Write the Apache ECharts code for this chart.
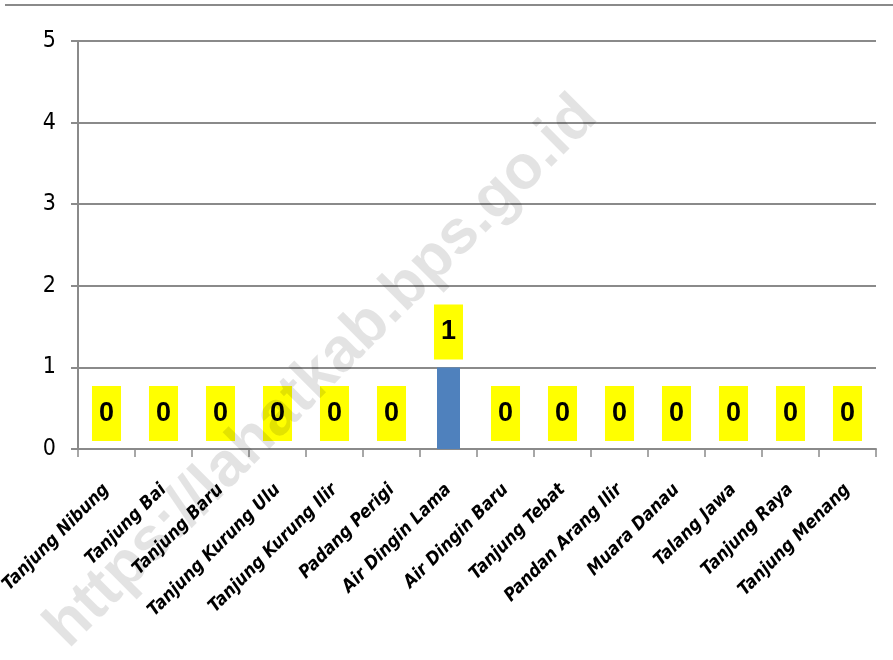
<!DOCTYPE html>
<html>
<head>
<meta charset="utf-8">
<script src="https://cdn.jsdelivr.net/npm/echarts@6/dist/echarts.min.js"></script>
<style>
  html, body { margin: 0; padding: 0; background: #fff; }
  #chart { width: 893px; height: 660px; }
</style>
</head>
<body>
<div id="chart"></div>
<script>
const villages = [
  "Tanjung Nibung", "Tanjung Bai", "Tanjung Baru", "Tanjung Kurung Ulu",
  "Tanjung Kurung Ilir", "Padang Perigi", "Air Dingin Lama", "Air Dingin Baru",
  "Tanjung Tebat", "Pandan Arang Ilir", "Muara Danau", "Talang Jawa",
  "Tanjung Raya", "Tanjung Menang"
];
const counts = [0, 0, 0, 0, 0, 0, 1, 0, 0, 0, 0, 0, 0, 0];
const yTicks = [0, 1, 2, 3, 4, 5];

const gridGray = "#8a8a8a";
const chart = echarts.init(document.getElementById("chart"));

const option = {
  animation: false,
  grid: { left: 78, right: 17, top: 41, bottom: 211, containLabel: false, outerBoundsMode: "none" },
  xAxis: {
    type: "category",
    data: villages,
    boundaryGap: true,
    axisLine: { lineStyle: { color: gridGray, width: 2 } },
    axisTick: { show: true, length: 8, lineStyle: { color: gridGray, width: 1.5 } },
    axisLabel: {
      interval: 0,
      rotate: 45,
      margin: 38,
      color: "#000",
      fontFamily: "'Liberation Sans Narrow', 'DejaVu Sans Condensed', sans-serif",
      fontWeight: "bold",
      fontStyle: "italic",
      fontSize: 18
    }
  },
  yAxis: {
    type: "value",
    min: yTicks[0],
    max: yTicks[yTicks.length - 1],
    interval: 1,
    axisLine: { show: true, lineStyle: { color: gridGray, width: 2 } },
    axisTick: { show: true, length: 7, lineStyle: { color: gridGray, width: 2 } },
    splitLine: { lineStyle: { color: gridGray, width: 2 } },
    axisLabel: {
      margin: 22,
      color: "#000",
      fontFamily: "'Liberation Sans Narrow', 'DejaVu Sans Condensed', sans-serif",
      fontSize: 23
    }
  },
  series: [
    {
      type: "bar",
      data: counts,
      barWidth: 23,
      itemStyle: { color: "#4f81bd" },
      label: {
        show: true,
        position: "top",
        distance: 8,
        backgroundColor: "#ffff00",
        padding: [13, 7, 13, 7],
        lineHeight: 29,
        color: "#000",
        fontFamily: "'Liberation Sans', Arial, sans-serif",
        fontWeight: "bold",
        fontSize: 27
      }
    }
  ],
  graphic: [
    {
      type: "line",
      shape: { x1: 5, y1: 5, x2: 893, y2: 5 },
      style: { stroke: gridGray, lineWidth: 2 }
    },
    {
      type: "text",
      x: 322,
      y: 372,
      rotation: Math.PI / 4,
      z: 100,
      style: {
        text: "https://lahatkab.bps.go.id",
        font: "bold 62px 'Liberation Sans', Arial, sans-serif",
        fill: "rgba(0,0,0,0.11)",
        align: "center",
        verticalAlign: "middle"
      }
    }
  ]
};

chart.setOption(option);
</script>
</body>
</html>
